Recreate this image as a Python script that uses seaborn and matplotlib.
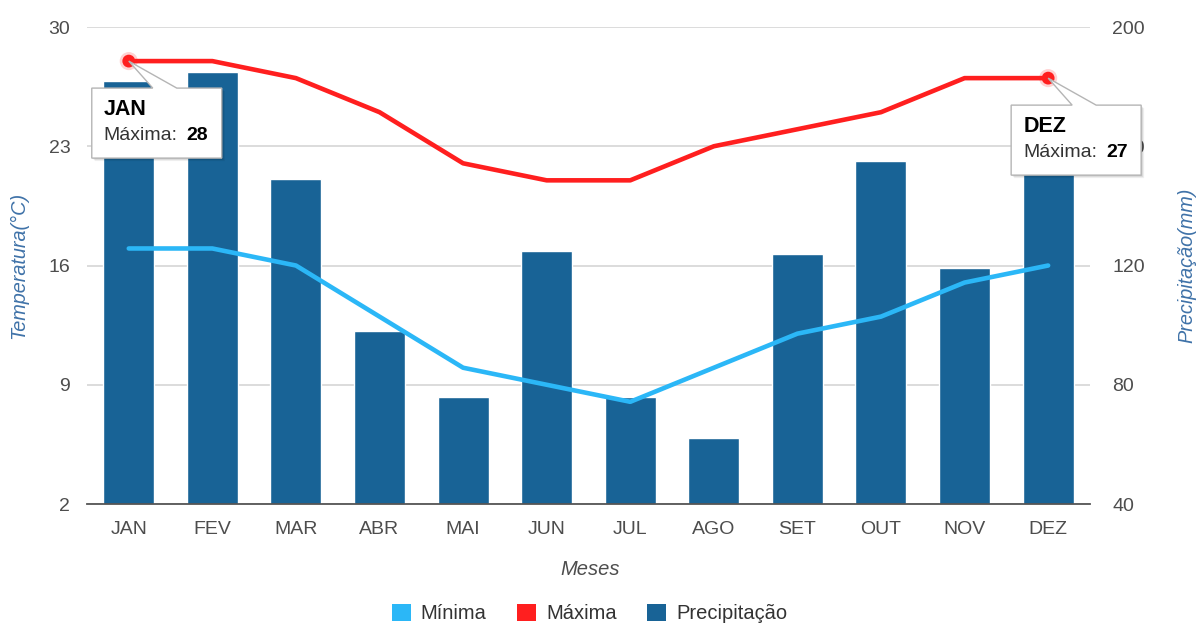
import numpy as np
import pandas as pd
import matplotlib
matplotlib.use("Agg")
import matplotlib.pyplot as plt
import matplotlib.transforms as mtransforms
from matplotlib.patches import Polygon, Patch
import seaborn as sns

# ---------------- data ----------------
meses = ["JAN", "FEV", "MAR", "ABR", "MAI", "JUN", "JUL", "AGO", "SET", "OUT", "NOV", "DEZ"]
minima = [17, 17, 16, 13, 10, 9, 8, 10, 12, 13, 15, 16]
maxima = [28, 28, 27, 25, 22, 21, 21, 23, 24, 25, 27, 27]
precipitacao = [182, 185, 149, 98, 76, 125, 76, 62, 124, 155, 119, 155]
temp_ticks = [2, 9, 16, 23, 30]
prec_ticks = [40, 80, 120, 160, 200]

C_MIN = "#2bb7f7"
C_MAX = "#ff1f1f"
C_BAR = "#186396"
C_TXT = "#4d4d4d"
C_TITLE = "#3f72a8"

sns.set_style("white")
plt.rcParams["font.family"] = ["Liberation Sans", "DejaVu Sans"]

pos = np.arange(len(meses))
df_t = pd.DataFrame({
    "pos": np.concatenate([pos, pos]),
    "valor": minima + maxima,
    "serie": ["Mínima"] * len(meses) + ["Máxima"] * len(meses),
})
df_p = pd.DataFrame({"pos": pos, "prec": precipitacao})

fig = plt.figure(figsize=(11.98, 6.24), dpi=100)
ax1 = fig.add_axes([0.0726, 0.1923, 0.8372, 0.7644])
ax2 = ax1.twinx()
ax1.set_zorder(2)
ax2.set_zorder(1)
ax1.patch.set_visible(False)

# lines (temperature)
sns.lineplot(data=df_t, x="pos", y="valor", hue="serie",
             palette={"Mínima": C_MIN, "Máxima": C_MAX},
             linewidth=3.3, legend=False, ax=ax1, sort=False)

# highlighted points
hl = pd.DataFrame({"pos": [pos[0], pos[-1]], "valor": [maxima[0], maxima[-1]]})
sns.scatterplot(data=hl, x="pos", y="valor", s=170, color=C_MAX, alpha=0.2,
                edgecolor="none", ax=ax1, legend=False, zorder=5)
sns.scatterplot(data=hl, x="pos", y="valor", s=85, color=C_MAX,
                edgecolor="none", ax=ax1, legend=False, zorder=6)

# bars (precipitation)
sns.barplot(data=df_p, x="pos", y="prec", native_scale=True, color=C_BAR,
            saturation=1, width=0.61, ax=ax2, zorder=2)

# axes ranges / ticks
ax1.set_xlim(-0.5, len(meses) - 0.5)
ax1.set_ylim(temp_ticks[0], temp_ticks[-1])
ax1.set_yticks(temp_ticks)
ax2.set_ylim(prec_ticks[0], prec_ticks[-1])
ax2.set_yticks(prec_ticks)
ax1.set_xticks(pos)
ax1.set_xticklabels(meses)

ax2.grid(axis="y", color="#d9d9d9", linewidth=1.3)
ax2.set_axisbelow(True)
ax1.grid(False)

for ax in (ax1, ax2):
    for s in ax.spines.values():
        s.set_visible(False)
ax1.spines["bottom"].set_visible(True)
ax1.spines["bottom"].set_color("#555555")
ax1.spines["bottom"].set_linewidth(1.3)
ax1.spines["bottom"].set_zorder(10)

ax1.tick_params(axis="x", length=0, pad=12, labelsize=14, labelcolor=C_TXT)
ax1.tick_params(axis="y", length=0, pad=12, labelsize=14, labelcolor=C_TXT)
ax2.tick_params(axis="y", length=0, pad=16, labelsize=14, labelcolor=C_TXT)

ax1.set_xlabel("Meses", fontsize=14.5, style="italic", color=C_TXT)
ax1.xaxis.set_label_coords(0.5015, -0.117)
ax1.set_ylabel("Temperatura(°C)", fontsize=14.3, style="italic", color=C_TITLE)
ax1.yaxis.set_label_coords(-0.059, 0.5)
ax2.set_ylabel("Precipitação(mm)", fontsize=14.3, style="italic", color=C_TITLE)
ax2.yaxis.set_label_coords(1.087, 0.5)

# tooltips
def tooltip(i):
    x, y = pos[i], maxima[i]
    base = mtransforms.ScaledTranslation(x, y, ax1.transData)
    tr = mtransforms.Affine2D() + base
    verts = [(0, 0), (48, -27), (93, -27), (93, -97), (-37, -97), (-37, -27), (24, -27)]
    for k, a in ((3, 0.06), (2, 0.08), (1, 0.10)):
        sh = Polygon([(vx + k, vy - k) for vx, vy in verts], closed=True,
                     transform=mtransforms.Affine2D() + base, facecolor="black",
                     edgecolor="none", alpha=a, clip_on=False, zorder=20)
        ax1.add_patch(sh)
    poly = Polygon(verts, closed=True, transform=tr, facecolor="white",
                   edgecolor="#b5b5b5", linewidth=1.0, clip_on=False, zorder=21)
    ax1.add_patch(poly)
    ax1.annotate(meses[i], xy=(x, y), xytext=(-25, -48), textcoords="offset pixels",
                 fontsize=15.5, fontweight="bold", color="black", va="center",
                 ha="left", zorder=22, annotation_clip=False)
    ax1.annotate("Máxima:", xy=(x, y), xytext=(-25, -74), textcoords="offset pixels",
                 fontsize=14, color="#333333", va="center", ha="left", zorder=22,
                 annotation_clip=False)
    ax1.annotate(f"{maxima[i]}", xy=(x, y), xytext=(58, -74), textcoords="offset pixels",
                 fontsize=14, fontweight="bold", color="black", va="center",
                 ha="left", zorder=22, annotation_clip=False)

tooltip(0)
tooltip(len(meses) - 1)

# legend
handles = [Patch(facecolor=C_MIN, edgecolor="none", label="Mínima"),
           Patch(facecolor=C_MAX, edgecolor="none", label="Máxima"),
           Patch(facecolor=C_BAR, edgecolor="none", label="Precipitação")]
fig.legend(handles=handles, loc="center", bbox_to_anchor=(0.492, 0.017), ncol=3,
           frameon=False, fontsize=14.5, handlelength=0.95, handleheight=0.95,
           handletextpad=0.5, columnspacing=1.5, labelcolor="#333333")

fig.savefig("out.png", dpi=100)
